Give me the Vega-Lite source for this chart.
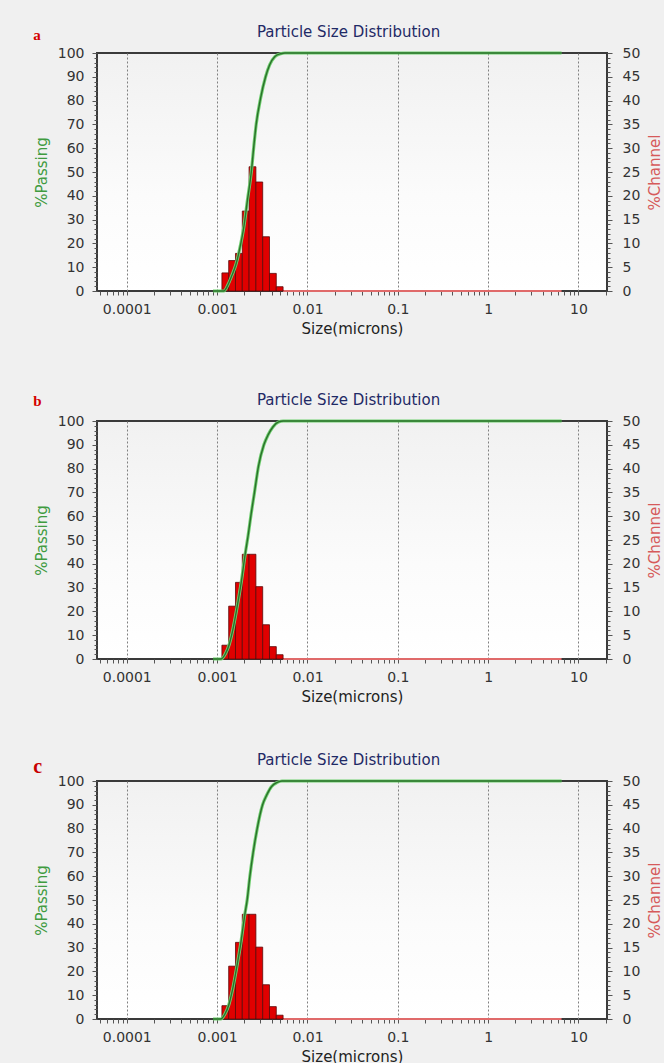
{
  "$schema": "https://vega.github.io/schema/vega-lite/v6.json",
  "background": "#f0f0f0",
  "padding": {"left": 33, "top": 24, "right": 0, "bottom": 0},
  "config": {
    "font": "DejaVu Sans",
    "view": {
      "stroke": "#3a3a3a",
      "strokeWidth": 2,
      "fill": {
        "gradient": "linear", "x1": 0, "y1": 0, "x2": 0, "y2": 1,
        "stops": [
          {"offset": 0, "color": "#f1f1f1"},
          {"offset": 0.6, "color": "#fbfbfb"},
          {"offset": 1, "color": "#ffffff"}
        ]
      }
    },
    "axis": {
      "domain": false,
      "labelFont": "DejaVu Sans",
      "labelFontSize": 14,
      "labelColor": "#333333",
      "titleFont": "DejaVu Sans",
      "titleFontSize": 15,
      "titleFontWeight": "normal",
      "tickColor": "#555555",
      "gridColor": "#a9a9a9",
      "gridWidth": 1.2,
      "labelOverlap": false
    }
  },
  "datasets": {
    "zero_channel": [
      {"size": 0.005374, "channel": 0},
      {"size": 6.5, "channel": 0}
    ],
    "bins_a": [
      {"size": 0.00113, "size_hi": 0.001343, "channel": 3.8},
      {"size": 0.001343, "size_hi": 0.001597, "channel": 6.4},
      {"size": 0.001597, "size_hi": 0.0019, "channel": 7.9},
      {"size": 0.0019, "size_hi": 0.002259, "channel": 16.8},
      {"size": 0.002259, "size_hi": 0.002687, "channel": 26.1},
      {"size": 0.002687, "size_hi": 0.003195, "channel": 22.9},
      {"size": 0.003195, "size_hi": 0.0038, "channel": 11.4},
      {"size": 0.0038, "size_hi": 0.004519, "channel": 3.7},
      {"size": 0.004519, "size_hi": 0.005374, "channel": 0.9}
    ],
    "bins_b": [
      {"size": 0.00113, "size_hi": 0.001343, "channel": 2.9},
      {"size": 0.001343, "size_hi": 0.001597, "channel": 11.1},
      {"size": 0.001597, "size_hi": 0.0019, "channel": 16.1},
      {"size": 0.0019, "size_hi": 0.002259, "channel": 22.0},
      {"size": 0.002259, "size_hi": 0.002687, "channel": 22.0},
      {"size": 0.002687, "size_hi": 0.003195, "channel": 15.2},
      {"size": 0.003195, "size_hi": 0.0038, "channel": 7.2},
      {"size": 0.0038, "size_hi": 0.004519, "channel": 2.6},
      {"size": 0.004519, "size_hi": 0.005374, "channel": 0.9}
    ],
    "bins_c": [
      {"size": 0.00113, "size_hi": 0.001343, "channel": 2.8},
      {"size": 0.001343, "size_hi": 0.001597, "channel": 11.1},
      {"size": 0.001597, "size_hi": 0.0019, "channel": 16.1},
      {"size": 0.0019, "size_hi": 0.002259, "channel": 22.0},
      {"size": 0.002259, "size_hi": 0.002687, "channel": 22.0},
      {"size": 0.002687, "size_hi": 0.003195, "channel": 15.1},
      {"size": 0.003195, "size_hi": 0.0038, "channel": 7.2},
      {"size": 0.0038, "size_hi": 0.004519, "channel": 2.6},
      {"size": 0.004519, "size_hi": 0.005374, "channel": 0.8}
    ],
    "passing_a": [
      {"size": 0.0009, "passing": 0},
      {"size": 0.001186, "passing": 0},
      {"size": 0.001313, "passing": 2.5},
      {"size": 0.001455, "passing": 6.5},
      {"size": 0.001611, "passing": 11},
      {"size": 0.001785, "passing": 18},
      {"size": 0.001977, "passing": 27},
      {"size": 0.002163, "passing": 38},
      {"size": 0.002406, "passing": 51},
      {"size": 0.002551, "passing": 61},
      {"size": 0.002706, "passing": 70},
      {"size": 0.003028, "passing": 81},
      {"size": 0.00344, "passing": 90},
      {"size": 0.00381, "passing": 95},
      {"size": 0.004364, "passing": 98.5},
      {"size": 0.005048, "passing": 99.7},
      {"size": 0.005633, "passing": 100},
      {"size": 6.5, "passing": 100}
    ],
    "passing_b": [
      {"size": 0.0009, "passing": 0},
      {"size": 0.001107, "passing": 0},
      {"size": 0.001227, "passing": 2},
      {"size": 0.001358, "passing": 6},
      {"size": 0.001505, "passing": 13},
      {"size": 0.001666, "passing": 22},
      {"size": 0.001845, "passing": 32},
      {"size": 0.002043, "passing": 44},
      {"size": 0.002206, "passing": 52},
      {"size": 0.002381, "passing": 61},
      {"size": 0.002591, "passing": 70},
      {"size": 0.00287, "passing": 81},
      {"size": 0.003293, "passing": 90},
      {"size": 0.003648, "passing": 94},
      {"size": 0.004144, "passing": 97.5},
      {"size": 0.004783, "passing": 99.6},
      {"size": 0.005393, "passing": 100},
      {"size": 6.5, "passing": 100}
    ],
    "passing_c": [
      {"size": 0.0009, "passing": 0},
      {"size": 0.001099, "passing": 0},
      {"size": 0.001217, "passing": 2},
      {"size": 0.001348, "passing": 6},
      {"size": 0.001493, "passing": 13},
      {"size": 0.001653, "passing": 22},
      {"size": 0.001831, "passing": 32},
      {"size": 0.002027, "passing": 44},
      {"size": 0.002151, "passing": 50},
      {"size": 0.002305, "passing": 60},
      {"size": 0.002506, "passing": 70},
      {"size": 0.002777, "passing": 80},
      {"size": 0.003186, "passing": 90},
      {"size": 0.003529, "passing": 94},
      {"size": 0.004009, "passing": 97.7},
      {"size": 0.004627, "passing": 99.4},
      {"size": 0.005216, "passing": 100},
      {"size": 6.5, "passing": 100}
    ]
  },
  "spacing": 55,
  "vconcat": [
    {
      "title": {"text": "a", "anchor": "start", "frame": "bounds", "offset": -19, "font": "Liberation Serif", "fontSize": 15, "fontWeight": "bold", "color": "#d40000"},
      "vconcat": [
        {
          "width": 510, "height": 238,
          "title": {"text": "Particle Size Distribution", "anchor": "middle", "frame": "bounds", "offset": 6, "font": "DejaVu Sans", "fontSize": 15, "fontWeight": "normal", "color": "#1f2a66"},
          "encoding": {
            "x": {
              "field": "size", "type": "quantitative",
              "scale": {"type": "log", "domain": [0.0000468, 20.7], "nice": false},
              "axis": {
                "title": "Size(microns)", "titleColor": "#222222", "titlePadding": 5,
                "values": [0.00005, 0.00006, 0.00007, 0.00008, 0.00009, 0.0001, 0.0002, 0.0003, 0.0004, 0.0005, 0.0006, 0.0007, 0.0008, 0.0009, 0.001, 0.002, 0.003, 0.004, 0.005, 0.006, 0.007, 0.008, 0.009, 0.01, 0.02, 0.03, 0.04, 0.05, 0.06, 0.07, 0.08, 0.09, 0.1, 0.2, 0.3, 0.4, 0.5, 0.6, 0.7, 0.8, 0.9, 1, 2, 3, 4, 5, 6, 7, 8, 9, 10, 20],
                "labelExpr": "abs(log(datum.value) / LN10 - round(log(datum.value) / LN10)) < 0.001 ? format(datum.value, '~g') : ''",
                "tickSize": 4, "labelPadding": 7,
                "gridDash": [2, 2], "gridColor": "#808080", "gridWidth": 1,
                "gridOpacity": {"condition": {"test": "abs(log(datum.value) / LN10 - round(log(datum.value) / LN10)) < 0.001", "value": 1}, "value": 0}
              }
            }
          },
          "resolve": {"scale": {"y": "independent"}},
          "layer": [
            {
              "encoding": {
                "y": {
                  "field": "channel", "type": "quantitative",
                  "scale": {"domain": [0, 50], "nice": false},
                  "axis": {
                    "orient": "right", "title": "%Channel", "titleColor": "#d65a5a", "titleAngle": 270, "titleBaseline": "top", "titlePadding": 8,
                    "values": [0, 1, 2, 3, 4, 5, 6, 7, 8, 9, 10, 11, 12, 13, 14, 15, 16, 17, 18, 19, 20, 21, 22, 23, 24, 25, 26, 27, 28, 29, 30, 31, 32, 33, 34, 35, 36, 37, 38, 39, 40, 41, 42, 43, 44, 45, 46, 47, 48, 49, 50],
                    "labelExpr": "datum.value % 5 === 0 ? datum.label : ''",
                    "grid": false, "labelPadding": 10,
                    "tickSize": {"condition": {"test": "datum.value % 5 === 0", "value": 5}, "value": 3}
                  }
                }
              },
              "layer": [
                {"data": {"name": "zero_channel"}, "mark": {"type": "line", "color": "#e06a6a", "strokeWidth": 2}},
                {"data": {"name": "bins_a"}, "mark": {"type": "rect", "color": "#e00000", "stroke": "#5a0a0a", "strokeWidth": 0.8}, "encoding": {"x2": {"field": "size_hi"}, "y2": {"datum": 0}}}
              ]
            },
            {
              "data": {"name": "passing_a"},
              "encoding": {
                "y": {
                  "field": "passing", "type": "quantitative",
                  "scale": {"domain": [0, 100], "nice": false},
                  "axis": {
                    "orient": "left", "title": "%Passing", "titleColor": "#3f9b3f", "titlePadding": 8,
                    "values": [0, 2, 4, 6, 8, 10, 12, 14, 16, 18, 20, 22, 24, 26, 28, 30, 32, 34, 36, 38, 40, 42, 44, 46, 48, 50, 52, 54, 56, 58, 60, 62, 64, 66, 68, 70, 72, 74, 76, 78, 80, 82, 84, 86, 88, 90, 92, 94, 96, 98, 100],
                    "labelExpr": "datum.value % 10 === 0 ? datum.label : ''",
                    "labelPadding": 8,
                    "tickSize": {"condition": {"test": "datum.value % 10 === 0", "value": 5}, "value": 3},
                    "gridOpacity": {"condition": {"test": "datum.value % 10 === 0 && datum.value > 0 && datum.value < 100", "value": 1}, "value": 0}
                  }
                }
              },
              "layer": [
                {"mark": {"type": "line", "color": "#6fcf6f", "strokeWidth": 3.2, "interpolate": "monotone"}},
                {"mark": {"type": "line", "color": "#1f5f1f", "strokeWidth": 1.4, "interpolate": "monotone", "opacity": 0.85}}
              ]
            }
          ]
        }
      ]
    },
    {
      "spacing": 47,
      "vconcat": [
        {
          "title": {"text": "b", "anchor": "start", "frame": "bounds", "offset": -17, "font": "Liberation Serif", "fontSize": 15, "fontWeight": "bold", "color": "#d40000"},
          "vconcat": [
            {
              "width": 510, "height": 238,
              "title": {"text": "Particle Size Distribution", "anchor": "middle", "frame": "bounds", "offset": 6, "font": "DejaVu Sans", "fontSize": 15, "fontWeight": "normal", "color": "#1f2a66"},
              "encoding": {
                "x": {
                  "field": "size", "type": "quantitative",
                  "scale": {"type": "log", "domain": [0.0000468, 20.7], "nice": false},
                  "axis": {
                    "title": "Size(microns)", "titleColor": "#222222", "titlePadding": 5,
                    "values": [0.00005, 0.00006, 0.00007, 0.00008, 0.00009, 0.0001, 0.0002, 0.0003, 0.0004, 0.0005, 0.0006, 0.0007, 0.0008, 0.0009, 0.001, 0.002, 0.003, 0.004, 0.005, 0.006, 0.007, 0.008, 0.009, 0.01, 0.02, 0.03, 0.04, 0.05, 0.06, 0.07, 0.08, 0.09, 0.1, 0.2, 0.3, 0.4, 0.5, 0.6, 0.7, 0.8, 0.9, 1, 2, 3, 4, 5, 6, 7, 8, 9, 10, 20],
                    "labelExpr": "abs(log(datum.value) / LN10 - round(log(datum.value) / LN10)) < 0.001 ? format(datum.value, '~g') : ''",
                    "tickSize": 4, "labelPadding": 7,
                    "gridDash": [2, 2], "gridColor": "#808080", "gridWidth": 1,
                    "gridOpacity": {"condition": {"test": "abs(log(datum.value) / LN10 - round(log(datum.value) / LN10)) < 0.001", "value": 1}, "value": 0}
                  }
                }
              },
              "resolve": {"scale": {"y": "independent"}},
              "layer": [
                {
                  "encoding": {
                    "y": {
                      "field": "channel", "type": "quantitative",
                      "scale": {"domain": [0, 50], "nice": false},
                      "axis": {
                        "orient": "right", "title": "%Channel", "titleColor": "#d65a5a", "titleAngle": 270, "titleBaseline": "top", "titlePadding": 8,
                        "values": [0, 1, 2, 3, 4, 5, 6, 7, 8, 9, 10, 11, 12, 13, 14, 15, 16, 17, 18, 19, 20, 21, 22, 23, 24, 25, 26, 27, 28, 29, 30, 31, 32, 33, 34, 35, 36, 37, 38, 39, 40, 41, 42, 43, 44, 45, 46, 47, 48, 49, 50],
                        "labelExpr": "datum.value % 5 === 0 ? datum.label : ''",
                        "grid": false, "labelPadding": 10,
                        "tickSize": {"condition": {"test": "datum.value % 5 === 0", "value": 5}, "value": 3}
                      }
                    }
                  },
                  "layer": [
                    {"data": {"name": "zero_channel"}, "mark": {"type": "line", "color": "#e06a6a", "strokeWidth": 2}},
                    {"data": {"name": "bins_b"}, "mark": {"type": "rect", "color": "#e00000", "stroke": "#5a0a0a", "strokeWidth": 0.8}, "encoding": {"x2": {"field": "size_hi"}, "y2": {"datum": 0}}}
                  ]
                },
                {
                  "data": {"name": "passing_b"},
                  "encoding": {
                    "y": {
                      "field": "passing", "type": "quantitative",
                      "scale": {"domain": [0, 100], "nice": false},
                      "axis": {
                        "orient": "left", "title": "%Passing", "titleColor": "#3f9b3f", "titlePadding": 8,
                        "values": [0, 2, 4, 6, 8, 10, 12, 14, 16, 18, 20, 22, 24, 26, 28, 30, 32, 34, 36, 38, 40, 42, 44, 46, 48, 50, 52, 54, 56, 58, 60, 62, 64, 66, 68, 70, 72, 74, 76, 78, 80, 82, 84, 86, 88, 90, 92, 94, 96, 98, 100],
                        "labelExpr": "datum.value % 10 === 0 ? datum.label : ''",
                        "labelPadding": 8,
                        "tickSize": {"condition": {"test": "datum.value % 10 === 0", "value": 5}, "value": 3},
                        "gridOpacity": {"condition": {"test": "datum.value % 10 === 0 && datum.value > 0 && datum.value < 100", "value": 1}, "value": 0}
                      }
                    }
                  },
                  "layer": [
                    {"mark": {"type": "line", "color": "#6fcf6f", "strokeWidth": 3.2, "interpolate": "monotone"}},
                    {"mark": {"type": "line", "color": "#1f5f1f", "strokeWidth": 1.4, "interpolate": "monotone", "opacity": 0.85}}
                  ]
                }
              ]
            }
          ]
        },
        {
          "title": {"text": "c", "anchor": "start", "frame": "bounds", "offset": -25, "font": "Liberation Serif", "fontSize": 20, "fontWeight": "bold", "color": "#c80000"},
          "vconcat": [
            {
              "width": 510, "height": 238,
              "title": {"text": "Particle Size Distribution", "anchor": "middle", "frame": "bounds", "offset": 6, "font": "DejaVu Sans", "fontSize": 15, "fontWeight": "normal", "color": "#1f2a66"},
              "encoding": {
                "x": {
                  "field": "size", "type": "quantitative",
                  "scale": {"type": "log", "domain": [0.0000468, 20.7], "nice": false},
                  "axis": {
                    "title": "Size(microns)", "titleColor": "#222222", "titlePadding": 5,
                    "values": [0.00005, 0.00006, 0.00007, 0.00008, 0.00009, 0.0001, 0.0002, 0.0003, 0.0004, 0.0005, 0.0006, 0.0007, 0.0008, 0.0009, 0.001, 0.002, 0.003, 0.004, 0.005, 0.006, 0.007, 0.008, 0.009, 0.01, 0.02, 0.03, 0.04, 0.05, 0.06, 0.07, 0.08, 0.09, 0.1, 0.2, 0.3, 0.4, 0.5, 0.6, 0.7, 0.8, 0.9, 1, 2, 3, 4, 5, 6, 7, 8, 9, 10, 20],
                    "labelExpr": "abs(log(datum.value) / LN10 - round(log(datum.value) / LN10)) < 0.001 ? format(datum.value, '~g') : ''",
                    "tickSize": 4, "labelPadding": 7,
                    "gridDash": [2, 2], "gridColor": "#808080", "gridWidth": 1,
                    "gridOpacity": {"condition": {"test": "abs(log(datum.value) / LN10 - round(log(datum.value) / LN10)) < 0.001", "value": 1}, "value": 0}
                  }
                }
              },
              "resolve": {"scale": {"y": "independent"}},
              "layer": [
                {
                  "encoding": {
                    "y": {
                      "field": "channel", "type": "quantitative",
                      "scale": {"domain": [0, 50], "nice": false},
                      "axis": {
                        "orient": "right", "title": "%Channel", "titleColor": "#d65a5a", "titleAngle": 270, "titleBaseline": "top", "titlePadding": 8,
                        "values": [0, 1, 2, 3, 4, 5, 6, 7, 8, 9, 10, 11, 12, 13, 14, 15, 16, 17, 18, 19, 20, 21, 22, 23, 24, 25, 26, 27, 28, 29, 30, 31, 32, 33, 34, 35, 36, 37, 38, 39, 40, 41, 42, 43, 44, 45, 46, 47, 48, 49, 50],
                        "labelExpr": "datum.value % 5 === 0 ? datum.label : ''",
                        "grid": false, "labelPadding": 10,
                        "tickSize": {"condition": {"test": "datum.value % 5 === 0", "value": 5}, "value": 3}
                      }
                    }
                  },
                  "layer": [
                    {"data": {"name": "zero_channel"}, "mark": {"type": "line", "color": "#e06a6a", "strokeWidth": 2}},
                    {"data": {"name": "bins_c"}, "mark": {"type": "rect", "color": "#e00000", "stroke": "#5a0a0a", "strokeWidth": 0.8}, "encoding": {"x2": {"field": "size_hi"}, "y2": {"datum": 0}}}
                  ]
                },
                {
                  "data": {"name": "passing_c"},
                  "encoding": {
                    "y": {
                      "field": "passing", "type": "quantitative",
                      "scale": {"domain": [0, 100], "nice": false},
                      "axis": {
                        "orient": "left", "title": "%Passing", "titleColor": "#3f9b3f", "titlePadding": 8,
                        "values": [0, 2, 4, 6, 8, 10, 12, 14, 16, 18, 20, 22, 24, 26, 28, 30, 32, 34, 36, 38, 40, 42, 44, 46, 48, 50, 52, 54, 56, 58, 60, 62, 64, 66, 68, 70, 72, 74, 76, 78, 80, 82, 84, 86, 88, 90, 92, 94, 96, 98, 100],
                        "labelExpr": "datum.value % 10 === 0 ? datum.label : ''",
                        "labelPadding": 8,
                        "tickSize": {"condition": {"test": "datum.value % 10 === 0", "value": 5}, "value": 3},
                        "gridOpacity": {"condition": {"test": "datum.value % 10 === 0 && datum.value > 0 && datum.value < 100", "value": 1}, "value": 0}
                      }
                    }
                  },
                  "layer": [
                    {"mark": {"type": "line", "color": "#6fcf6f", "strokeWidth": 3.2, "interpolate": "monotone"}},
                    {"mark": {"type": "line", "color": "#1f5f1f", "strokeWidth": 1.4, "interpolate": "monotone", "opacity": 0.85}}
                  ]
                }
              ]
            }
          ]
        }
      ]
    }
  ]
}
